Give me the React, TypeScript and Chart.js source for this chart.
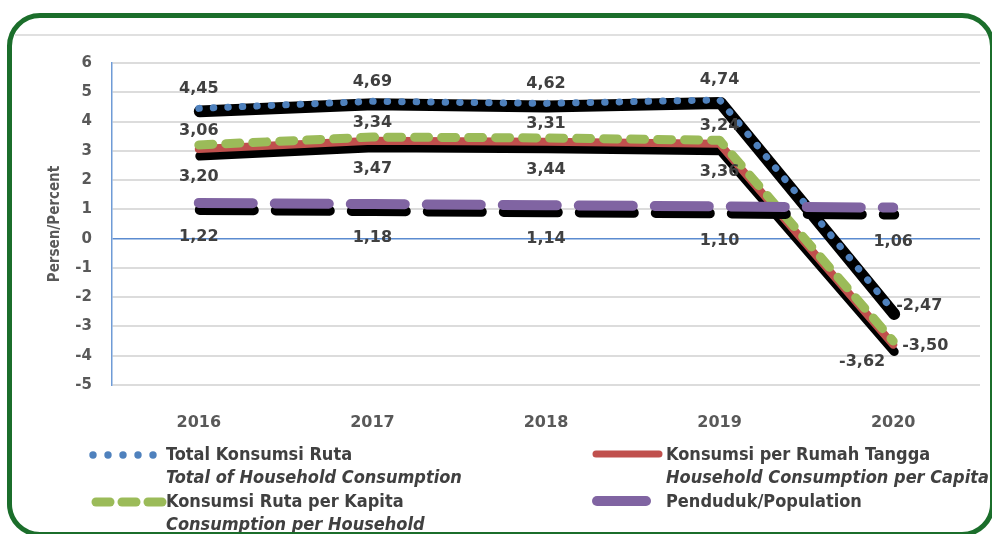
import React, { useEffect, useRef } from "react";
import { Chart, registerables } from "chart.js";

Chart.register(...registerables);

const years = ["2016", "2017", "2018", "2019", "2020"];
const totalKonsumsi = [4.45, 4.69, 4.62, 4.74, -2.47];
const konsumsiRumahTangga = [3.06, 3.34, 3.31, 3.24, -3.62];
const konsumsiPerKapita = [3.2, 3.47, 3.44, 3.36, -3.5];
const penduduk = [1.22, 1.18, 1.14, 1.1, 1.06];
const yTicks = [6, 5, 4, 3, 2, 1, 0, -1, -2, -3, -4, -5];

const BLUE = "#4f81bd";
const RED = "#c0504d";
const GREEN = "#9bbb59";
const PURPLE = "#8064a2";
const TXT = "#404040";
const AX = "#595959";
const FONT = "'DejaVu Sans', sans-serif";
const FONT_C = "'DejaVu Sans Condensed', 'DejaVu Sans', sans-serif";

const fmt = (v: number) => v.toFixed(2).replace(".", ",");

const shadowPlugin = {
  id: "blackShadow",
  beforeDatasetDraw(chart: any, args: any) {
    const ds: any = chart.data.datasets[args.index];
    const sh = ds.shadow;
    if (!sh) return;
    const pts = args.meta.data;
    const ctx = chart.ctx;
    ctx.save();
    ctx.beginPath();
    pts.forEach((p: any, i: number) => {
      if (i === 0) ctx.moveTo(p.x + sh.dx, p.y + sh.dy);
      else ctx.lineTo(p.x + sh.dx, p.y + sh.dy);
    });
    ctx.lineWidth = sh.width;
    ctx.strokeStyle = "#000";
    ctx.lineCap = "round";
    ctx.lineJoin = "round";
    ctx.setLineDash(sh.dash || []);
    ctx.stroke();
    ctx.restore();
  },
};

const labelPlugin = {
  id: "valueLabels",
  afterDatasetsDraw(chart: any) {
    const ctx = chart.ctx;
    ctx.save();
    ctx.font = `bold 16px ${FONT}`;
    ctx.fillStyle = TXT;
    ctx.textBaseline = "middle";
    chart.data.datasets.forEach((ds: any, di: number) => {
      const meta = chart.getDatasetMeta(di);
      meta.data.forEach((p: any, i: number) => {
        const v = ds.data[i];
        const last = i === ds.data.length - 1;
        const spec = last && ds.lastLabel ? ds.lastLabel : ds.label_;
        ctx.textAlign = spec.align;
        ctx.fillText(fmt(v), p.x + spec.dx, p.y + spec.dy);
      });
    });
    ctx.restore();
  },
};

export default function App() {
  const ref = useRef<HTMLCanvasElement>(null);

  useEffect(() => {
    if (!ref.current) return;
    const chart = new Chart(ref.current, {
      type: "line",
      data: {
        labels: years,
        datasets: [
          {
            label: "Total Konsumsi Ruta",
            data: totalKonsumsi,
            borderColor: BLUE,
            borderWidth: 7,
            borderDash: [0.5, 14],
            borderCapStyle: "round",
            borderJoinStyle: "round",
            pointRadius: 0,
            tension: 0,
            order: 4,
            shadow: { dx: 1, dy: 3, width: 12 },
            label_: { align: "center", dx: 0, dy: -20 },
            lastLabel: { align: "left", dx: 3, dy: -5 },
          },
          {
            label: "Konsumsi per Rumah Tangga",
            data: konsumsiRumahTangga,
            borderColor: RED,
            borderWidth: 8,
            borderCapStyle: "round",
            borderJoinStyle: "round",
            pointRadius: 0,
            tension: 0,
            order: 3,
            shadow: { dx: 1, dy: 7, width: 9 },
            label_: { align: "center", dx: 0, dy: -18 },
            lastLabel: { align: "right", dx: -8, dy: 17 },
          },
          {
            label: "Konsumsi Ruta per Kapita",
            data: konsumsiPerKapita,
            borderColor: GREEN,
            borderWidth: 9,
            borderDash: [14, 13],
            borderCapStyle: "round",
            borderJoinStyle: "round",
            pointRadius: 0,
            tension: 0,
            order: 2,
            label_: { align: "center", dx: 0, dy: 32 },
            lastLabel: { align: "left", dx: 9, dy: 5 },
          },
          {
            label: "Penduduk/Population",
            data: penduduk,
            borderColor: PURPLE,
            borderWidth: 10,
            borderDash: [54, 22],
            borderCapStyle: "round",
            borderJoinStyle: "round",
            pointRadius: 0,
            tension: 0,
            order: 1,
            shadow: { dx: 1, dy: 7, width: 10, dash: [54, 22] },
            label_: { align: "center", dx: 0, dy: 34 },
          },
        ] as any,
      },
      options: {
        animation: false,
        responsive: false,
        maintainAspectRatio: false,
        events: [],
        layout: { padding: { left: 0, top: 63, right: 12, bottom: 89 } },
        plugins: {
          legend: { display: false },
          tooltip: { enabled: false },
        },
        scales: {
          x: {
            type: "category",
            offset: true,
            grid: { display: false },
            border: { display: false },
            ticks: {
              color: AX,
              font: { family: FONT, weight: "bold", size: 16 },
              padding: 20,
              maxRotation: 0,
            },
            afterFit: (s: any) => {
              s.height = 60;
            },
          },
          y: {
            min: -5,
            max: 6,
            afterBuildTicks: (s: any) => {
              s.ticks = yTicks.map((v) => ({ value: v }));
            },
            grid: {
              drawTicks: false,
              color: (c: any) => (c.tick && c.tick.value === 0 ? "#5b8bd0" : "#dcdcdc"),
              lineWidth: (c: any) => (c.tick && c.tick.value === 0 ? 1.5 : 2),
            },
            border: { display: true, color: "#6f9bd6", width: 1.5 },
            ticks: {
              color: AX,
              font: { family: FONT, weight: "bold", size: 15 },
              padding: 20,
              callback: (v: any) => String(v),
            },
            title: {
              display: true,
              text: "Persen/Percent",
              color: AX,
              font: { family: FONT_C, weight: "bold", size: 15 },
              padding: { top: 46, bottom: 0 },
            },
            afterFit: (s: any) => {
              s.width = 112;
            },
          },
        },
      },
      plugins: [shadowPlugin, labelPlugin],
    } as any);
    return () => chart.destroy();
  }, []);

  const textStyle: React.CSSProperties = {
    position: "absolute",
    fontFamily: FONT_C,
    fontWeight: "bold",
    fontSize: 18,
    lineHeight: "22.5px",
    color: TXT,
    whiteSpace: "nowrap",
  };
  const ital: React.CSSProperties = { fontStyle: "italic" };

  return (
    <div
      style={{
        position: "fixed",
        left: 0,
        top: 0,
        width: 992,
        height: 534,
        overflow: "hidden",
        background: "#fff",
      }}
    >
      <div
        style={{
          position: "absolute",
          left: 15,
          top: 34,
          width: 980,
          height: 2,
          background: "#e0e0e0",
        }}
      />
      <canvas
        ref={ref}
        width={992}
        height={534}
        style={{ position: "absolute", left: 0, top: 0, width: 992, height: 534 }}
      />
      <svg
        width={992}
        height={534}
        style={{ position: "absolute", left: 0, top: 0, pointerEvents: "none" }}
      >
        {[93, 108, 123, 138, 153].map((cx) => (
          <circle key={cx} cx={cx} cy={455} r={3.7} fill={BLUE} />
        ))}
        <line x1={596} y1={454} x2={659} y2={454} stroke={RED} strokeWidth={7} strokeLinecap="round" />
        {[96, 122, 148].map((x) => (
          <line key={x} x1={x} y1={502} x2={x + 14} y2={502} stroke={GREEN} strokeWidth={9} strokeLinecap="round" />
        ))}
        <line x1={597} y1={501} x2={646} y2={501} stroke={PURPLE} strokeWidth={10} strokeLinecap="round" />
      </svg>
      <div style={{ ...textStyle, left: 166, top: 443 }}>
        <div>Total Konsumsi Ruta</div>
        <div style={ital}>Total of Household Consumption</div>
      </div>
      <div style={{ ...textStyle, left: 666, top: 443 }}>
        <div>Konsumsi per Rumah Tangga</div>
        <div style={ital}>Household Consumption per Capita</div>
      </div>
      <div style={{ ...textStyle, left: 166, top: 490 }}>
        <div>Konsumsi Ruta per Kapita</div>
        <div style={ital}>Consumption per Household</div>
      </div>
      <div style={{ ...textStyle, left: 666, top: 490 }}>
        <div>Penduduk/Population</div>
      </div>
      <div
        style={{
          position: "absolute",
          left: 7,
          top: 13,
          width: 988,
          height: 524,
          border: "5px solid #1b6e2b",
          borderRadius: 33,
          boxSizing: "border-box",
          pointerEvents: "none",
        }}
      />
    </div>
  );
}
